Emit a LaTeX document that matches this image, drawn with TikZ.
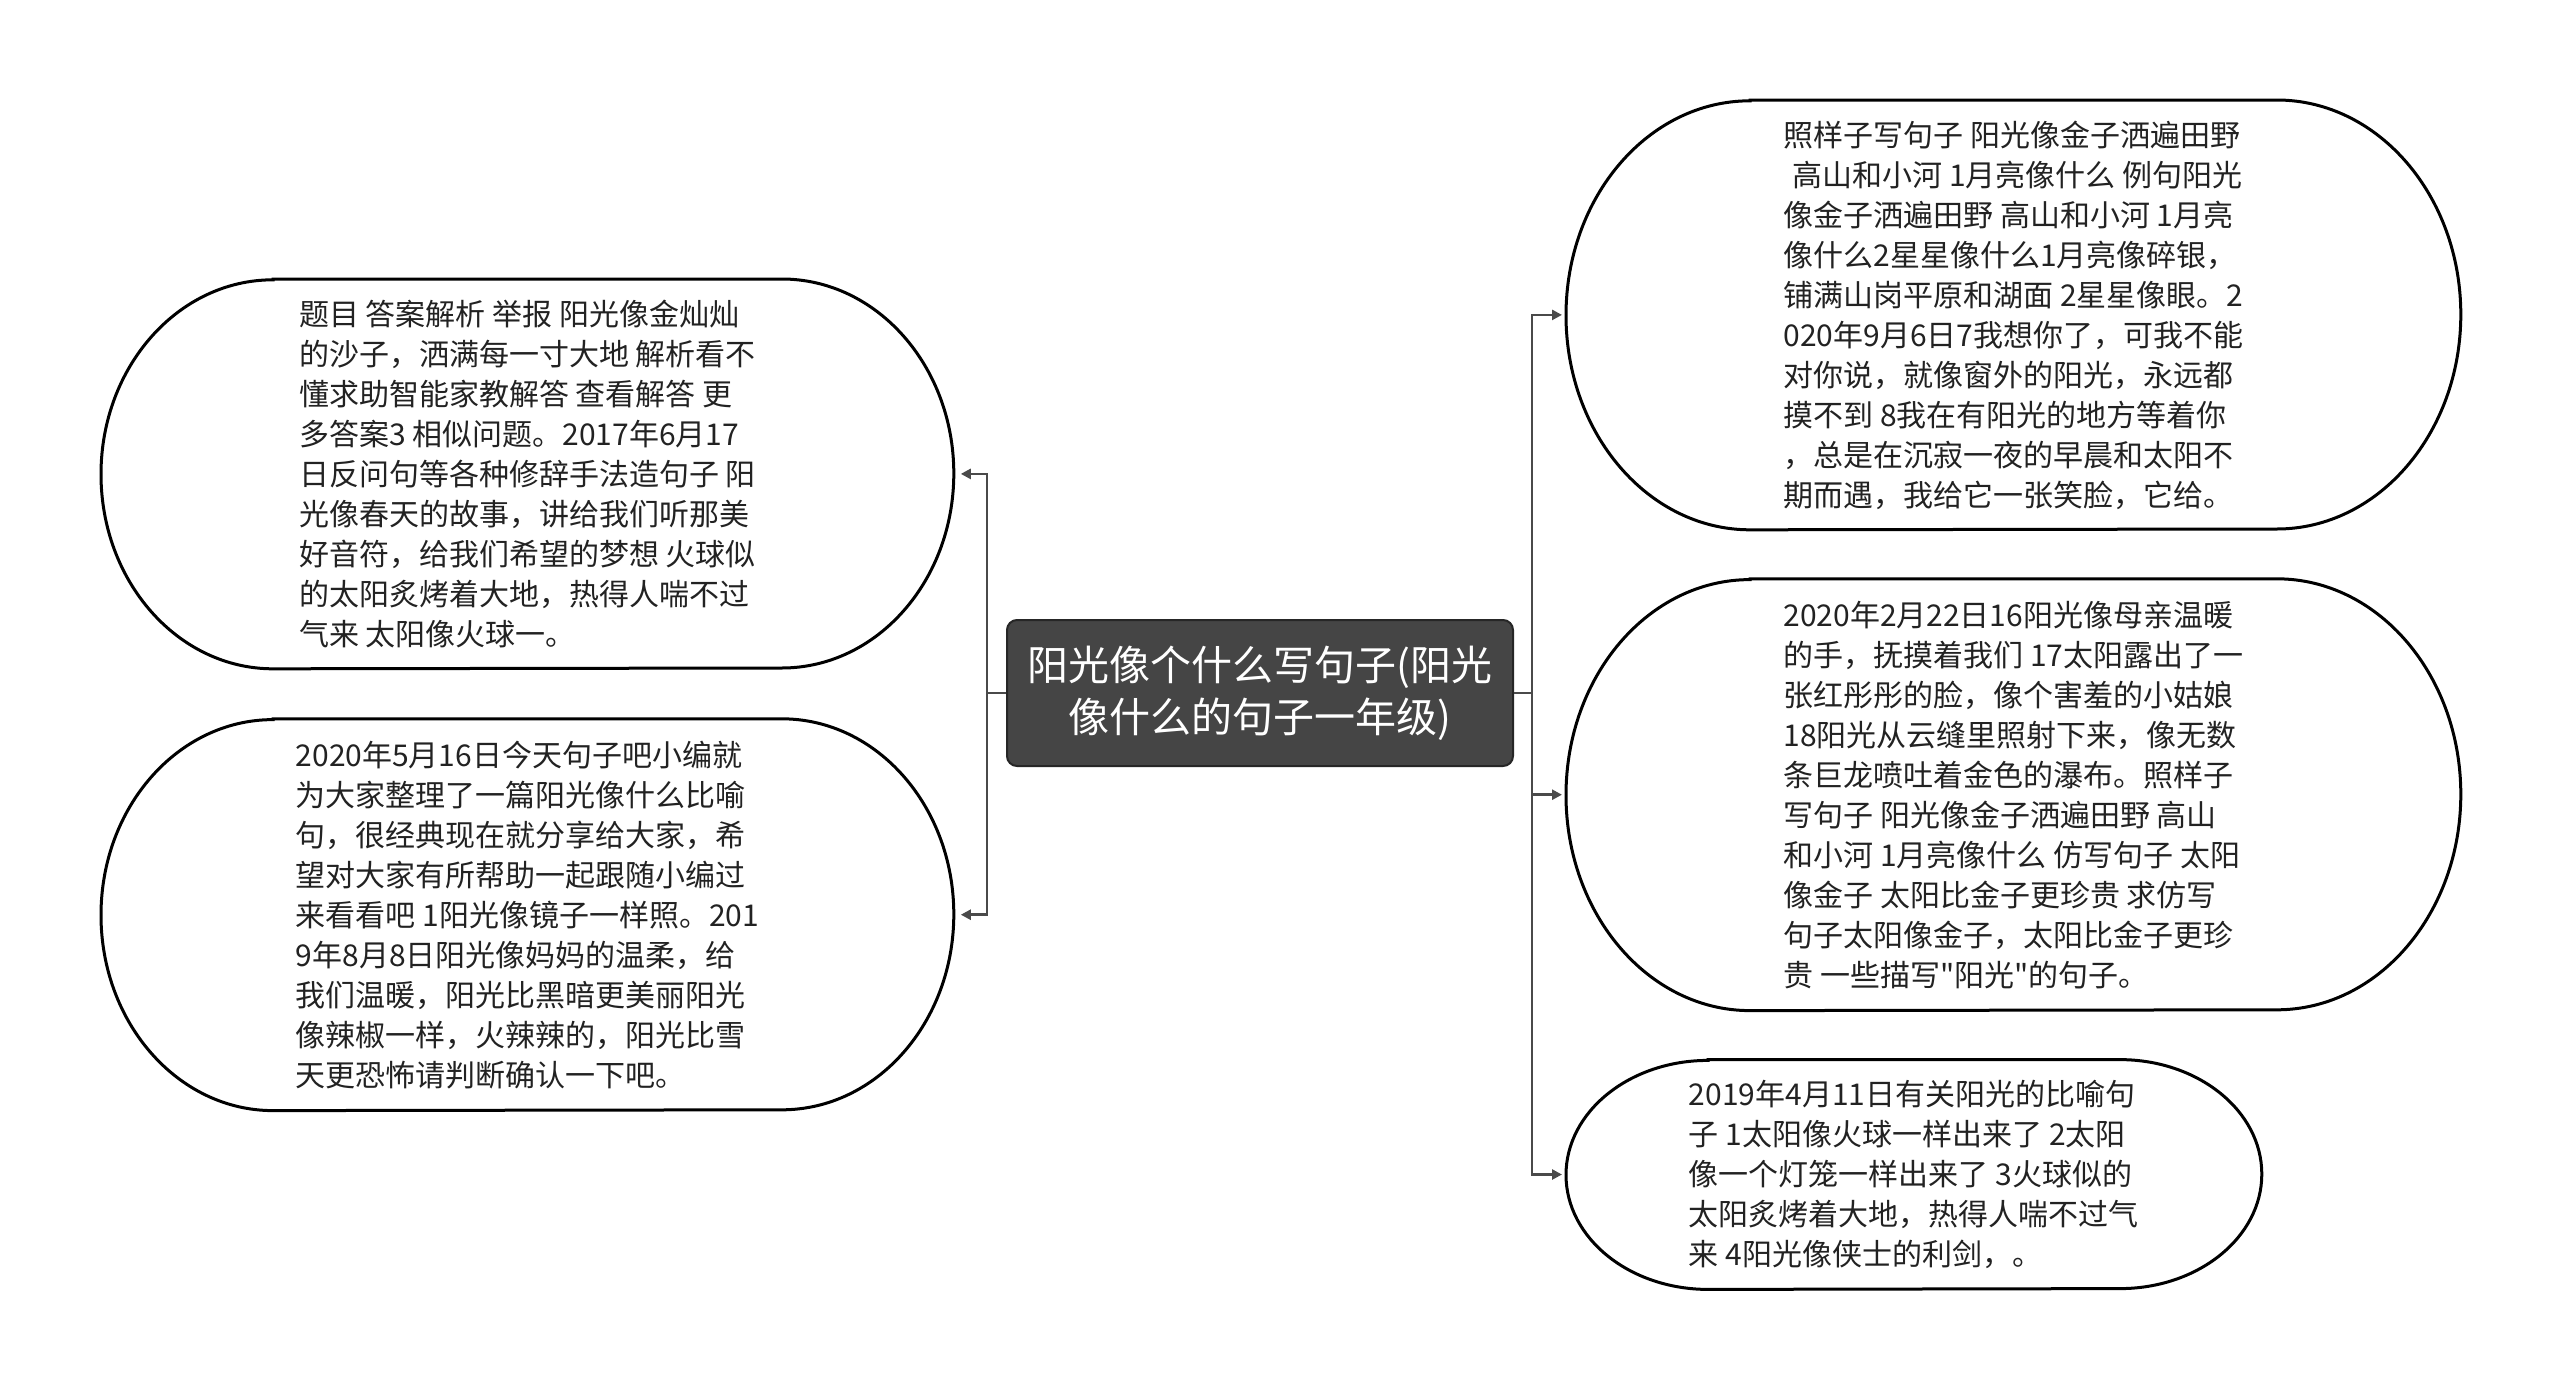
\documentclass[tikz,border=0pt]{standalone}
\usepackage{fontspec}
\setmainfont{Noto Sans CJK SC}
\newfontfamily\rawfont{Noto Sans CJK SC}[Ligatures=ResetAll]
\usepackage{xcolor}
\usetikzlibrary{positioning, arrows.meta, calc}
\definecolor{rootfill}{HTML}{454545}
\definecolor{wire}{HTML}{4A4A4A}
\definecolor{ink}{HTML}{222222}
% outline of a bubble: node, x radius, y radius
\newcommand{\bubbleline}[3]{%
  \draw[bline] ($(#1.north west)+(#2,0)$) -- ($(#1.north east)+(-#2,0)$)
    arc[start angle=90, end angle=-90, x radius=#2, y radius=#3]
    -- ($(#1.south west)+(#2,0)$)
    arc[start angle=270, end angle=90, x radius=#2, y radius=#3] -- cycle;}
\newcommand{\sq}{{\rawfont\char34}}

\begin{document}
\begin{tikzpicture}[
  x=0.5pt, y=-0.5pt,
  every node/.style={align=left, inner sep=0pt},
  root/.style={rectangle, rounded corners=5pt, draw=black!85, line width=1pt,
               fill=rootfill, text=white, align=center,
               font=\fontsize{20.5}{26}\selectfont,
               minimum width=253pt, minimum height=73pt},
  bubble/.style={text=ink, font=\fontsize{15}{20}\selectfont},
  bline/.style={draw=black, line width=1.5pt},
  stub/.style={draw=wire, line width=1.3pt},
  conn/.style={stub, -{Triangle[length=5pt, width=5pt]}}
]
  \useasboundingbox (0,0) rectangle (2560,1387);

  \node[root] (root) at (1260,693)
    {阳光像个什么写句子(阳光\\像什么的句子一年级)};

  % left side
  \node[bubble, minimum width=426pt, minimum height=194.5pt, anchor=north west] (L1) at (101,279)
    {题目 答案解析 举报 阳光像金灿灿\\
     的沙子，洒满每一寸大地 解析看不\\
     懂求助智能家教解答 查看解答 更\\
     多答案3 相似问题。2017年6月17\\
     日反问句等各种修辞手法造句子 阳\\
     光像春天的故事，讲给我们听那美\\
     好音符，给我们希望的梦想 火球似\\
     的太阳炙烤着大地，热得人喘不过\\
     气来 太阳像火球一。};
  \node[bubble, minimum width=426pt, minimum height=195.5pt, below=25pt of L1.south west, anchor=north west] (L2)
    {2020年5月16日今天句子吧小编就\\
     为大家整理了一篇阳光像什么比喻\\
     句，很经典现在就分享给大家，希\\
     望对大家有所帮助一起跟随小编过\\
     来看看吧 1阳光像镜子一样照。201\\
     9年8月8日阳光像妈妈的温柔，给\\
     我们温暖，阳光比黑暗更美丽阳光\\
     像辣椒一样，火辣辣的，阳光比雪\\
     天更恐怖请判断确认一下吧。};

  % right side
  \node[bubble, minimum width=447pt, minimum height=214.5pt, anchor=north west] (R1) at (1566,100)
    {照样子写句子 阳光像金子洒遍田野\\
     \hspace*{0.3em}高山和小河 1月亮像什么 例句阳光\\
     像金子洒遍田野 高山和小河 1月亮\\
     像什么2星星像什么1月亮像碎银，\\
     铺满山岗平原和湖面 2星星像眼。2\\
     020年9月6日7我想你了，可我不能\\
     对你说，就像窗外的阳光，永远都\\
     摸不到 8我在有阳光的地方等着你\\
     ，总是在沉寂一夜的早晨和太阳不\\
     期而遇，我给它一张笑脸，它给。};
  \node[bubble, minimum width=447pt, minimum height=215.5pt, below=24.5pt of R1.south west, anchor=north west] (R2)
    {2020年2月22日16阳光像母亲温暖\\
     的手，抚摸着我们 17太阳露出了一\\
     张红彤彤的脸，像个害羞的小姑娘\\
     18阳光从云缝里照射下来，像无数\\
     条巨龙喷吐着金色的瀑布。照样子\\
     写句子 阳光像金子洒遍田野 高山\\
     和小河 1月亮像什么 仿写句子 太阳\\
     像金子 太阳比金子更珍贵 求仿写\\
     句子太阳像金子，太阳比金子更珍\\
     贵 一些描写\sq 阳光\sq 的句子。};
  \node[bubble, minimum width=347.5pt, minimum height=114.5pt, below=24.5pt of R2.south west, anchor=north west] (R3)
    {2019年4月11日有关阳光的比喻句\\
     子 1太阳像火球一样出来了 2太阳\\
     像一个灯笼一样出来了 3火球似的\\
     太阳炙烤着大地，热得人喘不过气\\
     来 4阳光像侠士的利剑，。};

  \bubbleline{L1}{86pt}{97.25pt}
  \bubbleline{L2}{86pt}{97.75pt}
  \bubbleline{R1}{92pt}{107.25pt}
  \bubbleline{R2}{92pt}{107.75pt}
  \bubbleline{R3}{71pt}{57.25pt}

  % connectors
  \coordinate[left=9.5pt of root.west] (lj);
  \coordinate[right=9pt of root.east] (rj);
  \draw[stub] (root.west) -- (lj);
  \draw[stub] (root.east) -- (rj);
  \draw[conn, shorten >=3.5pt] (lj) |- (L1.east);
  \draw[conn, shorten >=3.5pt] (lj) |- (L2.east);
  \draw[conn, shorten >=2pt] (rj) |- (R1.west);
  \draw[conn, shorten >=2pt] (rj) |- (R2.west);
  \draw[conn, shorten >=2pt] (rj) |- (R3.west);
\end{tikzpicture}
\end{document}
